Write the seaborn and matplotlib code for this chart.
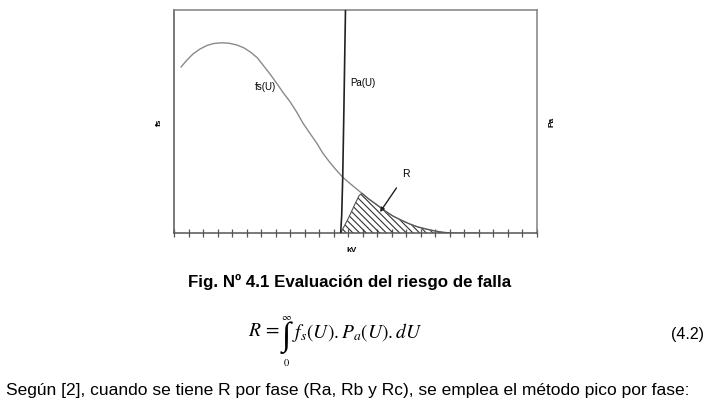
"""
Fig. 4.1 - Evaluacion del riesgo de falla: surge density fs(U), insulation
failure probability Pa(U) and hatched risk area R.
"""
import numpy as np
import matplotlib
matplotlib.use("Agg")
import matplotlib.pyplot as plt
import seaborn as sns

# fs(U): overvoltage probability density (arbitrary units)
fs_u = [0.48, 0.90, 1.31, 1.79, 2.27, 2.75, 3.31, 3.79, 4.34, 4.82, 5.23,
        5.72, 6.13, 6.61, 7.09, 7.51, 7.99, 8.47, 8.88, 9.37, 9.85, 10.26,
        10.74, 11.23, 11.64, 12.12, 12.81, 13.36, 13.98, 14.53, 15.08, 15.70,
        16.25, 16.80, 17.42, 17.98, 18.53, 19.15, 19.70, 21.07]
fs_val = [0.744, 0.776, 0.803, 0.825, 0.841, 0.850, 0.853, 0.851, 0.843, 0.830,
          0.813, 0.787, 0.753, 0.713, 0.670, 0.630, 0.589, 0.540, 0.493, 0.446,
          0.401, 0.357, 0.316, 0.278, 0.249, 0.222, 0.185, 0.155, 0.126, 0.099,
          0.076, 0.056, 0.040, 0.027, 0.017, 0.009, 0.003, 0.0, 0.0, 0.0]

# Pa(U): insulation failure probability (steep cumulative curve)
pa_u = [11.48, 11.55, 11.62, 11.70, 11.76, 11.81]
pa_val = [0.0, 0.08, 0.25, 0.55, 0.80, 1.0]

# R: fs(U).Pa(U) product, hatched area
r_u = [11.48, 12.00, 12.50, 12.75, 12.95, 13.36, 13.98, 14.53, 15.08, 15.70,
       16.25, 16.80, 17.42, 17.98, 18.53, 19.15]
r_val = [0.0, 0.065, 0.135, 0.168, 0.178, 0.155, 0.126, 0.099, 0.076, 0.056,
         0.040, 0.027, 0.017, 0.009, 0.003, 0.0]

x_ticks = list(range(0, 26))

W, H = 727, 407


def fx(px):
    return px / W


def fy(py):
    return 1 - py / H


sns.set_style("white")
plt.rcParams['font.family'] = ['Liberation Sans', 'DejaVu Sans']
plt.rcParams['text.color'] = 'black'
plt.rcParams['hatch.linewidth'] = 0.8
plt.rcParams['mathtext.fontset'] = 'stix'

fig = plt.figure(figsize=(7.27, 4.07), dpi=100)
ax = fig.add_axes([fx(174), fy(233), fx(537) - fx(174), fy(10) - fy(233)])

sns.lineplot(x=fs_u, y=fs_val, ax=ax, color="#8a8a8a", lw=1.0)
ax.fill_between(r_u, r_val, 0, facecolor="none", edgecolor="#333333",
                hatch="\\\\\\\\\\", lw=0)
sns.lineplot(x=r_u, y=r_val, ax=ax, color="#555555", lw=0.8)

ax.set_xlim(0, 25)
ax.set_ylim(0, 1)
ax.set_xticks(x_ticks)
ax.set_yticks([])
ax.tick_params(axis='x', bottom=True, direction='inout', length=6, width=0.9,
               color="#555555", labelbottom=False)
for side, sp in ax.spines.items():
    sp.set_visible(True)
    sp.set_color("#808080")
    sp.set_linewidth(1.1)
ax.spines['bottom'].set_color("#555555")
ax.spines['left'].set_color("#555555")

ax2 = ax.twinx()
sns.lineplot(x=pa_u, y=pa_val, ax=ax2, color="#222222", lw=1.2)
ax2.set_ylim(0, 1)
ax2.set_yticks([])
for sp in ax2.spines.values():
    sp.set_visible(False)

ax.set_xlabel("")
ax.set_ylabel("")
ax2.set_ylabel("")

ax.text(6.27, 0.653, "fs(U)", fontsize=7, ha='center', va='center')
ax.text(13.04, 0.671, "Pa(U)", fontsize=7, ha='center', va='center')
ax.annotate("R", xy=(14.19, 0.094), xytext=(15.98, 0.265), fontsize=7.5,
            ha='center', va='center',
            arrowprops=dict(arrowstyle='-|>', color='#222222', lw=1.0,
                            mutation_scale=6, shrinkA=5, shrinkB=0))

fig.text(fx(159), fy(122), "fs", fontsize=6, fontweight='bold',
         rotation=90, ha='center', va='center')
fig.text(fx(552), fy(122), "Pa", fontsize=6, fontweight='bold',
         rotation=90, ha='center', va='center')
fig.text(fx(352), fy(250), "kV", fontsize=6, fontweight='bold',
         ha='center', va='center')

fig.text(fx(350), fy(282), "Fig. Nº 4.1 Evaluación del riesgo de falla",
         fontsize=12.2, fontweight='bold', ha='center', va='center')

# equation (4.2)
fig.text(fx(248), fy(332), r"$R\,=$", fontsize=14, ha='left', va='center')
fig.text(fx(286), fy(338), "∫", fontsize=24, ha='center', va='center',
         family=['Liberation Serif', 'DejaVu Serif'])
fig.text(fx(292), fy(332), r"$f_s(U){.}P_a(U){.}dU$", fontsize=14,
         ha='left', va='center')
fig.text(fx(286), fy(317), r"$\infty$", fontsize=7.5, ha='center', va='center')
fig.text(fx(286), fy(363), r"$0$", fontsize=7.5, ha='center', va='center')
fig.text(fx(687), fy(334), "(4.2)", fontsize=11.5, ha='center', va='center')

fig.text(fx(6), fy(391),
         "Según [2], cuando se tiene R por fase (Ra, Rb y Rc), se emplea el método pico por fase:",
         fontsize=12.5, ha='left', va='center')

fig.savefig("out.png", dpi=100)
